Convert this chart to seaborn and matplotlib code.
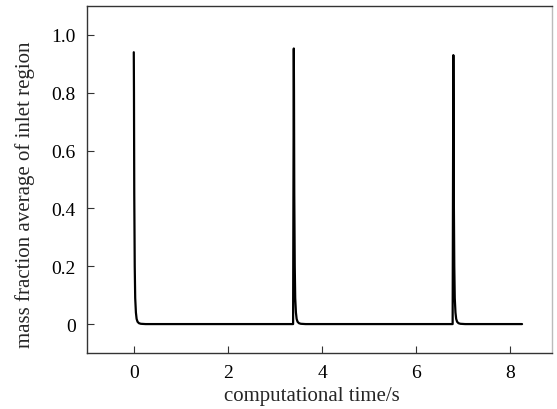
import numpy as np
import pandas as pd
import matplotlib
matplotlib.use("Agg")
import matplotlib.pyplot as plt
import seaborn as sns

# Computational time (s) and mass fraction average of inlet region
time_s = [0.000, 0.004, 0.010, 0.020, 0.030, 0.045, 0.060, 0.080, 0.110, 0.150, 0.250,
          3.385, 3.400, 3.404, 3.410, 3.420, 3.430, 3.445, 3.460, 3.480, 3.510, 3.550, 3.650,
          6.775, 6.790, 6.794, 6.800, 6.810, 6.820, 6.835, 6.850, 6.870, 6.900, 6.940, 7.040,
          8.250]
mass_fraction = [0.940, 0.800, 0.450, 0.200, 0.090, 0.040, 0.018, 0.008, 0.003, 0.001, 0.0,
                 0.0, 0.953, 0.800, 0.450, 0.200, 0.090, 0.040, 0.018, 0.008, 0.003, 0.001, 0.0,
                 0.0, 0.930, 0.780, 0.440, 0.200, 0.090, 0.040, 0.018, 0.008, 0.003, 0.001, 0.0,
                 0.0]

x_ticks = [0, 2, 4, 6, 8]
y_ticks = [0, 0.2, 0.4, 0.6, 0.8, 1.0]
y_tick_labels = ["0", "0.2", "0.4", "0.6", "0.8", "1.0"]

sns.set_style("ticks")
plt.rcParams["font.family"] = ["Liberation Serif", "DejaVu Serif"]

df = pd.DataFrame({"t": time_s, "m": mass_fraction})

fig = plt.figure(figsize=(5.57, 4.10), dpi=100)
ax = fig.add_axes([0.1557, 0.1366, 0.9905 - 0.1557, 0.983 - 0.1366])
sns.lineplot(data=df, x="t", y="m", ax=ax, color="black", linewidth=1.6,
             estimator=None, sort=False)

ax.set_xlim(-1.0, 8.88)
ax.set_ylim(-0.1, 1.1)
ax.set_xticks(x_ticks)
ax.set_xticklabels([str(v) for v in x_ticks])
ax.set_yticks(y_ticks)
ax.set_yticklabels(y_tick_labels)
ax.tick_params(direction="in", length=5, width=0.8, color="#333333",
               labelsize=14, labelcolor="black", pad=8)
for s in ax.spines.values():
    s.set_visible(True)
    s.set_color("#333333")
    s.set_linewidth(1.0)
ax.spines["right"].set_color("#bbbbbb")

ax.set_xlabel("computational time/s", fontsize=15)
ax.set_ylabel("mass fraction average of inlet region", fontsize=15)
ax.xaxis.set_label_coords(0.4845, -0.094)
ax.yaxis.set_label_coords(-0.112, 0.458)

fig.savefig("out.png", dpi=100)
